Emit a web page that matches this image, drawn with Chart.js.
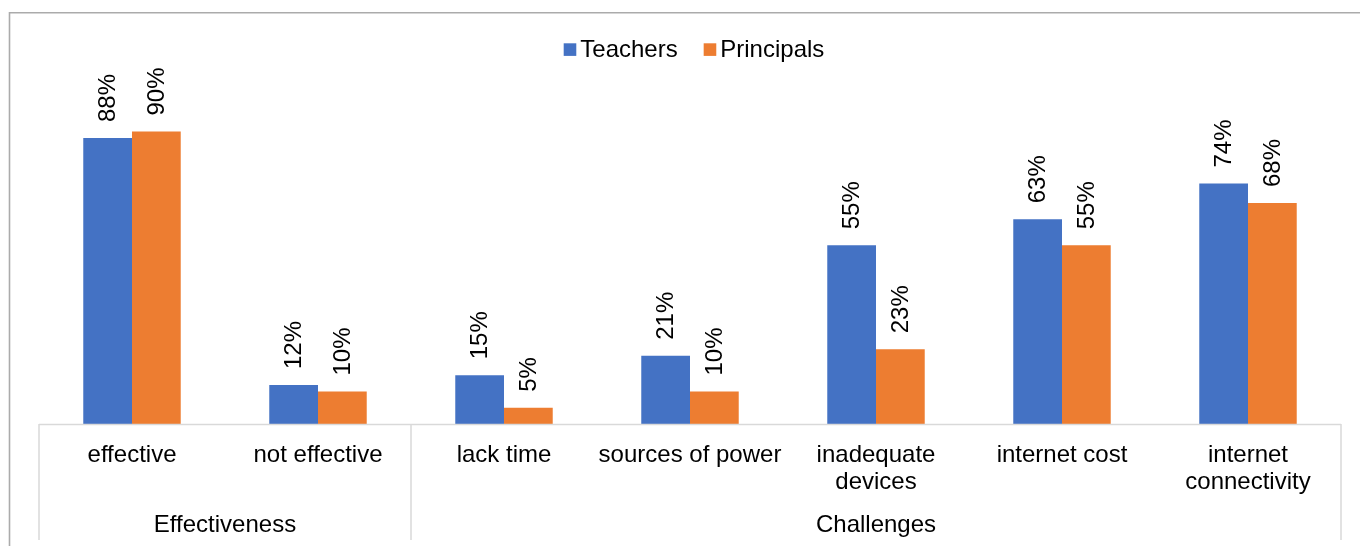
<!DOCTYPE html>
<html>
<head>
<meta charset="utf-8">
<script src="https://cdn.jsdelivr.net/npm/chart.js@4/dist/chart.umd.min.js"></script>
<style>
  html, body { margin: 0; padding: 0; background: #fff; }
  canvas { display: block; }
</style>
</head>
<body>
<canvas id="chart" width="1360" height="546"></canvas>
<script>
const categories = [
  'effective',
  'not effective',
  'lack time',
  'sources of power',
  ['inadequate', 'devices'],
  'internet cost',
  ['internet', 'connectivity']
];
const groups = ['Effectiveness', 'Challenges'];
const groupSizes = [2, 5];
const teachers = [88, 12, 15, 21, 55, 63, 74];
const principals = [90, 10, 5, 10, 23, 55, 68];

const FONT = '"Liberation Sans", Arial, sans-serif';
const lineGray = '#d9d9d9';

// frame, legend, value labels, category groups
const extras = {
  id: 'extras',
  beforeDraw(chart) {
    const ctx = chart.ctx;
    ctx.save();
    ctx.strokeStyle = '#ababab';
    ctx.lineWidth = 1.6;
    ctx.beginPath();
    ctx.moveTo(9.5, 546);
    ctx.lineTo(9.5, 12.8);
    ctx.lineTo(1360, 12.8);
    ctx.stroke();
    ctx.restore();
  },
  afterDraw(chart) {
    const ctx = chart.ctx;
    const area = chart.chartArea;
    ctx.save();

    // axis line + dividers
    ctx.strokeStyle = lineGray;
    ctx.lineWidth = 1.5;
    ctx.beginPath();
    ctx.moveTo(area.left, area.bottom + 0.5);
    ctx.lineTo(area.right, area.bottom + 0.5);
    const step = (area.right - area.left) / categories.length;
    let idx = 0;
    const edges = [area.left];
    groupSizes.forEach(n => { idx += n; edges.push(area.left + idx * step); });
    edges.forEach(x => {
      ctx.moveTo(x, area.bottom);
      ctx.lineTo(x, 540);
    });
    ctx.stroke();

    // group labels
    ctx.fillStyle = '#000';
    ctx.font = '24px ' + FONT;
    ctx.textAlign = 'center';
    ctx.textBaseline = 'alphabetic';
    groups.forEach((g, i) => {
      ctx.fillText(g, (edges[i] + edges[i + 1]) / 2, 532);
    });

    // value labels
    chart.data.datasets.forEach((ds, di) => {
      chart.getDatasetMeta(di).data.forEach((bar, i) => {
        ctx.save();
        ctx.translate(bar.x, bar.y - 16);
        ctx.rotate(-Math.PI / 2);
        ctx.textAlign = 'left';
        ctx.textBaseline = 'middle';
        ctx.fillText(ds.data[i] + '%', 0, 1);
        ctx.restore();
      });
    });

    // legend
    ctx.textAlign = 'left';
    const box = 12.6, gap = 4, spacing = 26;
    const items = chart.data.datasets.map(ds => ({
      label: ds.label, color: ds.backgroundColor,
      w: box + gap + ctx.measureText(ds.label).width
    }));
    const total = items.reduce((s, it) => s + it.w, 0) + spacing * (items.length - 1);
    let lx = 694 - total / 2;
    items.forEach(it => {
      ctx.fillStyle = it.color;
      ctx.fillRect(lx, 43.3, box, box);
      ctx.fillStyle = '#000';
      ctx.fillText(it.label, lx + box + gap, 57);
      lx += it.w + spacing;
    });

    ctx.restore();
  }
};

new Chart(document.getElementById('chart'), {
  type: 'bar',
  data: {
    labels: categories,
    datasets: [
      { label: 'Teachers', data: teachers, backgroundColor: '#4472c4' },
      { label: 'Principals', data: principals, backgroundColor: '#ed7d31' }
    ]
  },
  options: {
    responsive: false,
    animation: false,
    events: [],
    layout: { padding: { top: 99, left: 39, right: 19, bottom: 0 } },
    datasets: {
      bar: { categoryPercentage: 0.524, barPercentage: 1 }
    },
    plugins: {
      legend: { display: false },
      tooltip: { enabled: false }
    },
    scales: {
      y: { display: false, min: 0, max: 100 },
      x: {
        grid: { display: false, drawTicks: false },
        border: { display: false },
        ticks: {
          color: '#000',
          font: { family: FONT, size: 24, lineHeight: 1.125 },
          padding: 18,
          maxRotation: 0,
          minRotation: 0,
          autoSkip: false
        },
        afterFit(scale) { scale.height = 122; }
      }
    }
  },
  plugins: [extras]
});
</script>
</body>
</html>
